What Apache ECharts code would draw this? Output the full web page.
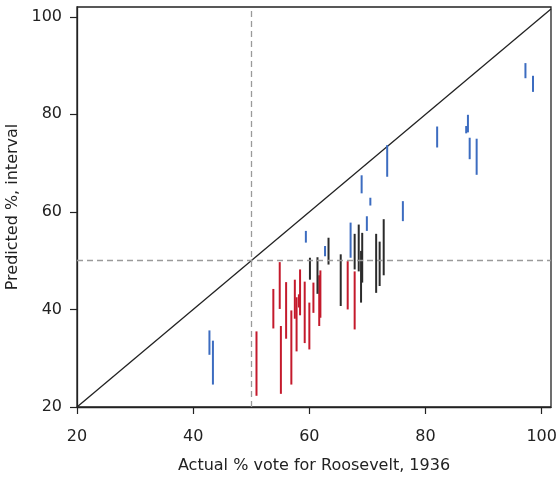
<!DOCTYPE html>
<html>
<head>
<meta charset="utf-8">
<script src="https://cdn.jsdelivr.net/npm/echarts@6/dist/echarts.min.js"></script>
<style>
  html, body { margin: 0; padding: 0; background: #fff; }
  #chart { width: 557px; height: 477px; }
</style>
</head>
<body>
<div id="chart"></div>
<script>
// tick values
const xTicks = [20, 40, 60, 80, 100];
const yTicks = [20, 40, 60, 80, 100];

// blue intervals: actual %, predicted low, predicted high
const blueActual = [42.8, 43.4, 59.4, 62.7, 67.1, 69.0, 69.9, 70.5, 73.4, 76.1, 82.0, 87.0, 87.3, 87.6, 88.8, 97.2, 98.5];
const blueLow = [30.7, 24.6, 53.7, 50.9, 50.6, 63.8, 56.1, 61.3, 67.2, 58.1, 73.2, 76.1, 76.3, 70.8, 67.6, 87.4, 84.6];
const blueHigh = [35.7, 33.6, 56.1, 53.0, 57.8, 67.5, 59.1, 62.9, 73.7, 62.2, 77.5, 77.6, 79.9, 75.2, 75.0, 90.5, 87.9];

// red intervals
const redActual = [50.9, 53.8, 54.9, 55.1, 56.0, 56.9, 57.5, 57.8, 58.2, 58.4, 59.2, 60.0, 60.7, 61.7, 61.9, 66.6, 67.8];
const redLow = [22.3, 36.1, 40.1, 22.7, 34.0, 24.6, 38.1, 31.4, 40.4, 38.8, 33.1, 31.8, 39.3, 36.6, 38.3, 40.0, 35.9];
const redHigh = [35.5, 44.2, 49.7, 36.6, 45.6, 39.8, 46.1, 42.5, 43.1, 48.2, 45.7, 41.4, 45.5, 47.0, 48.0, 49.9, 47.8];

// black intervals
const blackActual = [60.1, 61.4, 63.3, 65.4, 67.8, 68.5, 68.9, 69.1, 71.5, 72.1, 72.8];
const blackLow = [46.1, 43.2, 49.2, 40.7, 48.2, 47.8, 41.4, 45.5, 43.4, 44.8, 47.0];
const blackHigh = [50.6, 50.7, 54.7, 51.3, 55.5, 57.4, 52.0, 55.7, 55.5, 53.9, 58.5];

const FONT = 'DejaVu Sans, Verdana, sans-serif';
const INK = '#222';

function toRows(actual, low, high) {
  return actual.map((a, i) => [a, low[i], high[i]]);
}

function intervalSeries(name, rows, color) {
  return {
    name: name,
    type: 'custom',
    data: rows,
    encode: { x: 0, y: [1, 2] },
    renderItem: (params, api) => {
      const p1 = api.coord([api.value(0), api.value(1)]);
      const p2 = api.coord([api.value(0), api.value(2)]);
      return {
        type: 'line',
        shape: { x1: p1[0], y1: p1[1], x2: p2[0], y2: p2[1] },
        style: { stroke: color, lineWidth: 2 },
      };
    },
    z: 3,
  };
}

const myChart = echarts.init(document.getElementById('chart'));
let option = {
  animation: false,
  backgroundColor: '#fff',
  grid: {
    left: 77,
    right: 6,
    top: 7,
    bottom: 70,
    outerBoundsMode: 'none',
    containLabel: false,
    show: true,
    borderColor: INK,
    borderWidth: 1.3,
  },
  xAxis: {
    type: 'value',
    min: 20,
    max: 101.6,
    name: 'Actual % vote for Roosevelt, 1936',
    nameLocation: 'middle',
    nameGap: 51,
    nameTextStyle: { fontSize: 16, color: INK, fontFamily: FONT },
    axisLine: { show: true, onZero: false, lineStyle: { color: INK, width: 1.3 } },
    axisTick: { show: true, length: 7, customValues: xTicks, lineStyle: { color: INK, width: 1.2 } },
    axisLabel: { customValues: xTicks, fontSize: 16, color: INK, fontFamily: FONT, margin: 22 },
    splitLine: { show: false },
  },
  yAxis: {
    type: 'value',
    min: 20,
    max: 102,
    name: 'Predicted %, interval',
    nameLocation: 'middle',
    nameGap: 50,
    nameTextStyle: { fontSize: 16, color: INK, fontFamily: FONT },
    axisLine: { show: true, onZero: false, lineStyle: { color: INK, width: 1.3 } },
    axisTick: { show: true, length: 7, customValues: yTicks, lineStyle: { color: INK, width: 1.2 } },
    axisLabel: { customValues: yTicks, fontSize: 16, color: INK, fontFamily: FONT, margin: 15 },
    splitLine: { show: false },
  },
  series: [
    {
      name: 'diagonal',
      type: 'line',
      data: [[20, 20], [101.6, 101.6]],
      symbol: 'none',
      lineStyle: { color: INK, width: 1.3 },
      silent: true,
      z: 2,
      markLine: {
        symbol: 'none',
        silent: true,
        label: { show: false },
        lineStyle: { color: '#9a9a9a', type: [6, 4], width: 1.3 },
        data: [{ xAxis: 50 }, { yAxis: 50 }],
      },
    },
    intervalSeries('blue', toRows(blueActual, blueLow, blueHigh), '#3c6cc0'),
    intervalSeries('red', toRows(redActual, redLow, redHigh), '#c41a2c'),
    intervalSeries('black', toRows(blackActual, blackLow, blackHigh), '#2b2b2b'),
  ],
};
myChart.setOption(option);
</script>
</body>
</html>
